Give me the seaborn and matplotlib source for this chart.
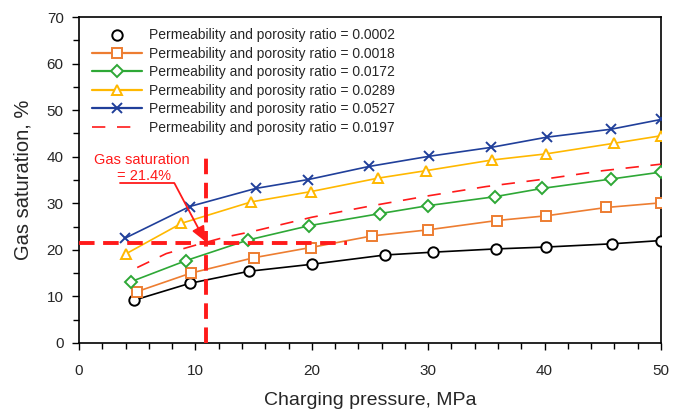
import matplotlib
matplotlib.use("Agg")
import matplotlib.pyplot as plt
from matplotlib.lines import Line2D
from matplotlib.ticker import MultipleLocator
import seaborn as sns

sns.set_style("ticks")
plt.rcParams['font.family'] = ['Liberation Sans', 'DejaVu Sans']

# ---- data ----
x_0002 = [4.75, 9.5, 14.6, 20.0, 26.3, 30.4, 35.8, 40.1, 45.8, 50.0]
y_0002 = [9.2, 12.8, 15.4, 16.9, 18.9, 19.5, 20.2, 20.6, 21.3, 22.0]

x_0018 = [4.95, 9.6, 15.0, 19.9, 25.2, 30.0, 35.9, 40.1, 45.3, 50.0]
y_0018 = [11.0, 15.0, 18.3, 20.5, 23.0, 24.3, 26.3, 27.3, 29.1, 30.1]

x_0172 = [4.5, 9.2, 14.5, 19.8, 25.9, 30.0, 35.7, 39.8, 45.7, 50.0]
y_0172 = [13.2, 17.7, 22.1, 25.2, 27.8, 29.5, 31.4, 33.2, 35.2, 36.7]

x_0289 = [4.0, 8.8, 14.8, 19.9, 25.7, 29.8, 35.5, 40.1, 46.0, 50.0]
y_0289 = [19.1, 25.7, 30.3, 32.5, 35.4, 37.0, 39.3, 40.6, 42.9, 44.5]

x_0527 = [3.95, 9.5, 15.2, 19.7, 24.9, 30.1, 35.4, 40.2, 45.7, 50.0]
y_0527 = [22.5, 29.3, 33.2, 35.1, 37.9, 40.1, 42.0, 44.2, 45.9, 48.0]

x_0197 = [5.0, 7.5, 10.0, 12.5, 15.0, 20.0, 25.0, 30.0, 35.0, 40.0, 45.0, 50.0]
y_0197 = [16.2, 19.2, 21.0, 22.7, 24.0, 27.0, 29.4, 31.6, 33.6, 35.2, 37.0, 38.4]

ratios = ["0.0002", "0.0018", "0.0172", "0.0289", "0.0527", "0.0197"]

target_pressure = 10.95
target_saturation = 21.4

# ---- figure ----
fig = plt.figure(figsize=(6.77, 4.11), dpi=100)
ax = fig.add_axes([0.1167, 0.1655, 0.8597, 0.7931])

c_black = "#000000"
c_orange = "#ED7D31"
c_green = "#2EA836"
c_yellow = "#FFB800"
c_blue = "#203F9A"
c_red = "#FF1A1A"

lw = 1.2
ms = 7.5
series = [
    (x_0002, y_0002, c_black, 'o'),
    (x_0018, y_0018, c_orange, 's'),
    (x_0172, y_0172, c_green, 'D'),
    (x_0289, y_0289, c_yellow, '^'),
    (x_0527, y_0527, c_blue, 'x'),
]
for xs, ys, col, mk in series:
    msz = ms - 1.5 if mk == 'D' else ms
    mew = 1.4
    sns.lineplot(x=xs, y=ys, ax=ax, color=col, linewidth=lw, marker=mk,
                 markersize=msz, markerfacecolor='white' if mk != 'x' else col,
                 markeredgecolor=col, markeredgewidth=mew, zorder=3)

sns.lineplot(x=x_0197, y=y_0197, ax=ax, color=c_red, linewidth=lw, zorder=3)
ax.lines[-1].set_linestyle((0, (8, 7)))

# thick reference lines
ax.plot([0, 23.0], [target_saturation, target_saturation], color=c_red, lw=2.8,
        linestyle=(0, (4, 2.2)), zorder=4)
ax.plot([target_pressure, target_pressure], [0, 41.2], color=c_red, lw=2.8,
        linestyle=(0, (4, 2.2)), zorder=4)

# annotation
ax.text(5.4, 39.2, "Gas saturation", color=c_red, fontsize=10.5, ha='center', va='center')
ax.text(5.6, 35.9, "= 21.4%", color=c_red, fontsize=10.5, ha='center', va='center')
ax.plot([3.5, 8.2], [34.3, 34.3], color=c_red, lw=1.3, zorder=5)
ax.annotate("", xy=(10.85, 21.8), xytext=(8.2, 34.3),
            arrowprops=dict(arrowstyle='-|>,head_length=0.9,head_width=0.4',
                            color=c_red, lw=1.3, shrinkA=0, shrinkB=0), zorder=5)

# axes
ax.set_xlim(0, 50)
ax.set_ylim(0, 70)
ax.xaxis.set_major_locator(MultipleLocator(10))
ax.xaxis.set_minor_locator(MultipleLocator(2))
ax.yaxis.set_major_locator(MultipleLocator(10))
ax.yaxis.set_minor_locator(MultipleLocator(5))
ax.tick_params(which='both', direction='out', top=False, right=False, width=1.0,
               color='black')
ax.tick_params(which='major', length=5, labelsize=11, pad=6)
ax.tick_params(which='minor', length=4)
ax.tick_params(axis='x', pad=10)
for s in ax.spines.values():
    s.set_color('black')
    s.set_linewidth(1.2)
ax.set_xlabel("Charging pressure, MPa", fontsize=14, labelpad=10)
ax.set_ylabel("Gas saturation, %", fontsize=14.5, labelpad=10)

# legend
handles = [
    Line2D([], [], color=c_black, linestyle='none', marker='o', markersize=ms,
           markerfacecolor='white', markeredgewidth=1.4),
    Line2D([], [], color=c_orange, lw=1.6, marker='s', markersize=ms,
           markerfacecolor='white', markeredgewidth=1.4),
    Line2D([], [], color=c_green, lw=1.6, marker='D', markersize=ms - 1.5,
           markerfacecolor='white', markeredgewidth=1.4),
    Line2D([], [], color=c_yellow, lw=1.6, marker='^', markersize=ms,
           markerfacecolor='white', markeredgewidth=1.4),
    Line2D([], [], color=c_blue, lw=1.6, marker='x', markersize=ms,
           markeredgewidth=1.4),
    Line2D([], [], color=c_red, lw=1.2, linestyle=(0, (8, 7))),
]
labels = ["Permeability and porosity ratio = " + r for r in ratios]
ax.legend(handles, labels, loc='upper left', bbox_to_anchor=(0.005, 0.995),
          frameon=False, fontsize=10, handlelength=3.6, handletextpad=0.5,
          labelspacing=0.32, borderaxespad=0.3)

fig.savefig("out.png", dpi=100)
